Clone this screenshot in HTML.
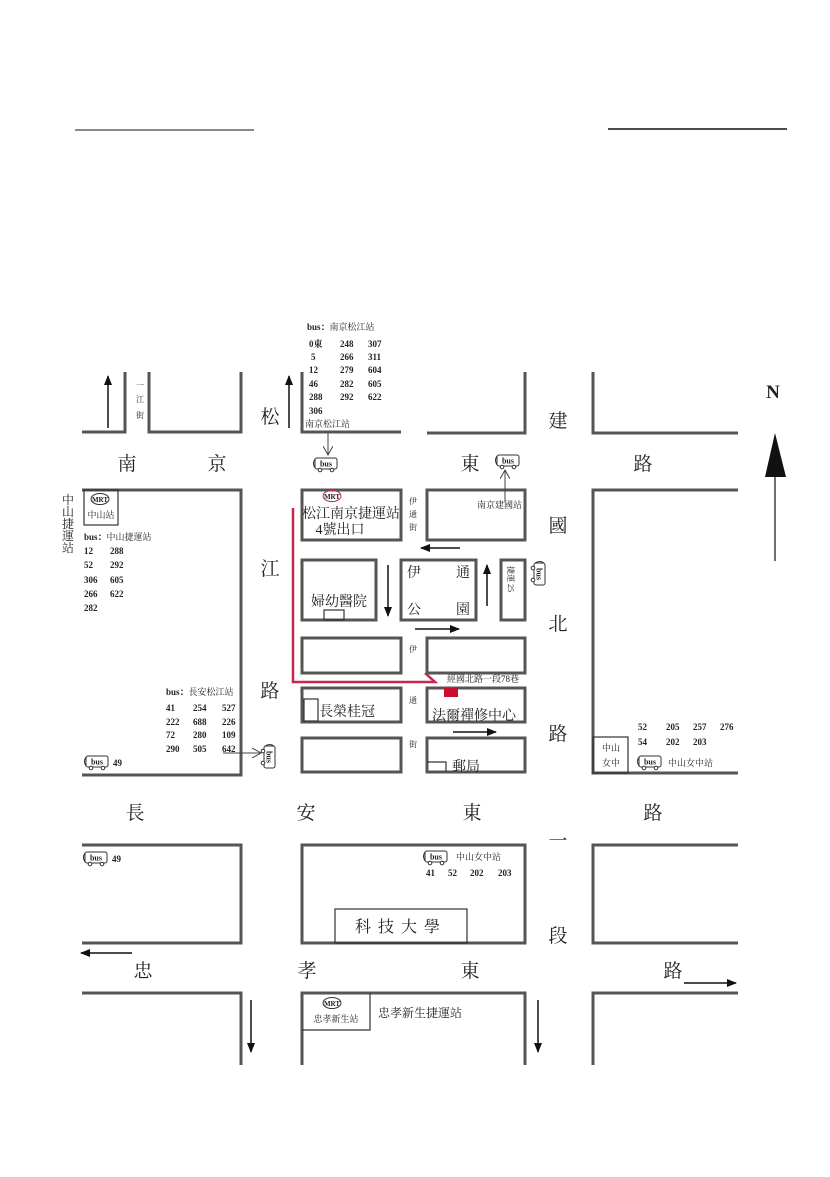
<!DOCTYPE html>
<html><head><meta charset="utf-8"><style>
html,body{margin:0;padding:0;background:#fff}
svg{display:block}
text{font-family:"Liberation Serif","Noto Serif CJK SC","Noto Sans CJK TC",serif;fill:#222}
.r{font-size:19px}
.s{font-size:9px;font-weight:bold}
.m{font-size:13px}
.b{fill:none;stroke:#555;stroke-width:3}
.t{fill:none;stroke:#333;stroke-width:1.2}
</style></head><body>
<svg width="830" height="1177" viewBox="0 0 830 1177" xmlns="http://www.w3.org/2000/svg">
<defs>
<marker id="ah" markerWidth="10" markerHeight="8" refX="9" refY="4" orient="auto" markerUnits="userSpaceOnUse"><path d="M0,0 L10,4 L0,8 Z" fill="#111"/></marker>
<marker id="oh" markerWidth="10" markerHeight="10" refX="9" refY="5" orient="auto" markerUnits="userSpaceOnUse"><path d="M0,0 L9,5 L0,10" fill="none" stroke="#444" stroke-width="1"/></marker>
<g id="bus"><rect x="3" y="0" width="22" height="11" rx="2" fill="#fff" stroke="#333" stroke-width="1"/><path d="M3,1 Q0,5 3,10" fill="none" stroke="#333"/><circle cx="8" cy="12" r="1.8" fill="#fff" stroke="#333"/><circle cx="20" cy="12" r="1.8" fill="#fff" stroke="#333"/><text x="14" y="8.5" font-size="8" text-anchor="middle" font-weight="bold">bus</text></g>
</defs>
<line x1="75" y1="130" x2="254" y2="130" stroke="#888" stroke-width="2"/>
<line x1="608" y1="129" x2="787" y2="129" stroke="#111" stroke-width="1.5"/>

<!-- top strip -->
<path class="b" d="M82,432 H125 V372"/>
<path class="b" d="M149,372 V432 H241 V372"/>
<path class="b" d="M302,372 V432 H401"/>
<path class="b" d="M427,433 H525 V372"/>
<path class="b" d="M593,372 V433 H738"/>
<!-- row 2 -->
<path class="b" d="M82,490 H241 V775 H82"/>
<rect class="b" x="302" y="490" width="99" height="50"/>
<rect class="b" x="427" y="490" width="98" height="50"/>
<rect class="b" x="302" y="560" width="74" height="60"/>
<rect class="b" x="401" y="560" width="75" height="60"/>
<rect class="b" x="501" y="560" width="24" height="60"/>
<rect class="b" x="302" y="638" width="99" height="35"/>
<rect class="b" x="427" y="638" width="98" height="35"/>
<rect class="b" x="302" y="688" width="99" height="34"/>
<rect class="b" x="427" y="688" width="98" height="34"/>
<rect class="b" x="302" y="738" width="99" height="34"/>
<rect class="b" x="427" y="738" width="98" height="34"/>
<path class="b" d="M738,490 H593 V773 H738"/>
<rect class="t" x="593" y="737" width="35" height="36" stroke-width="1.5"/>
<rect class="t" x="324" y="610" width="20" height="10"/>
<rect class="t" x="304" y="699" width="14" height="22"/>
<path class="t" d="M427,762 H446 V772"/>
<!-- row 3 -->
<path class="b" d="M82,845 H241 V943 H82"/>
<rect class="b" x="302" y="845" width="223" height="98"/>
<rect class="t" x="335" y="909" width="132" height="34"/>
<path class="b" d="M738,845 H593 V943 H738"/>
<!-- row 4 -->
<path class="b" d="M82,993 H241 V1065"/>
<path class="b" d="M302,1065 V993 H525 V1065"/>
<path class="t" d="M302,1030 H370 V993" stroke-width="1.5"/>
<path class="b" d="M738,993 H593 V1065"/>

<!-- red route -->
<path d="M293,508 V682 H435 L425,673" fill="none" stroke="#c8284e" stroke-width="2.5"/>
<rect x="444" y="688" width="14" height="9" fill="#c8102e"/>

<!-- road labels -->
<g class="r" text-anchor="middle">
<text x="127" y="470">南</text><text x="217" y="470">京</text><text x="470" y="470">東</text><text x="643" y="470">路</text>
<text x="270" y="423">松</text><text x="270" y="575">江</text><text x="270" y="697">路</text>
<text x="558" y="427">建</text><text x="558" y="532">國</text><text x="558" y="630">北</text><text x="558" y="740">路</text><text x="558" y="847">一</text><text x="558" y="942">段</text>
<text x="135" y="819">長</text><text x="306" y="819">安</text><text x="472" y="819">東</text><text x="653" y="819">路</text>
<text x="143" y="977">忠</text><text x="307" y="977">孝</text><text x="470" y="977">東</text><text x="673" y="977">路</text>
</g>
<g font-size="8" text-anchor="middle"><text x="140" y="388">一</text><text x="140" y="402">江</text><text x="140" y="418">街</text>
<text x="413" y="504">伊</text><text x="413" y="517">通</text><text x="413" y="530">街</text>
<text x="413" y="652">伊</text><text x="413" y="703">通</text><text x="413" y="747">街</text></g>

<!-- arrows -->
<g stroke="#111" stroke-width="1.5" fill="none">
<line x1="108" y1="428" x2="108" y2="376" marker-end="url(#ah)"/>
<line x1="289" y1="428" x2="289" y2="376" marker-end="url(#ah)"/>
<line x1="460" y1="548" x2="421" y2="548" marker-end="url(#ah)"/>
<line x1="388" y1="565" x2="388" y2="616" marker-end="url(#ah)"/>
<line x1="415" y1="629" x2="459" y2="629" marker-end="url(#ah)"/>
<line x1="487" y1="606" x2="487" y2="565" marker-end="url(#ah)"/>
<line x1="453" y1="732" x2="496" y2="732" marker-end="url(#ah)"/>
<line x1="132" y1="953" x2="81" y2="953" marker-end="url(#ah)"/>
<line x1="684" y1="983" x2="736" y2="983" marker-end="url(#ah)"/>
<line x1="251" y1="1000" x2="251" y2="1052" marker-end="url(#ah)"/>
<line x1="538" y1="1000" x2="538" y2="1052" marker-end="url(#ah)"/>
<line x1="775" y1="475" x2="775" y2="561" stroke-width="1.2"/>
</g>
<path d="M775,433 L765,477 H786 Z" fill="#111"/>
<text x="773" y="398" font-size="19" font-weight="bold" text-anchor="middle" fill="#111">N</text>
<g stroke="#444" stroke-width="1" fill="none">
<line x1="328" y1="433" x2="328" y2="455" marker-end="url(#oh)"/>
<line x1="505" y1="502" x2="505" y2="470" marker-end="url(#oh)"/>
<line x1="223" y1="753" x2="261" y2="753" marker-end="url(#oh)"/>
</g>

<!-- bus icons -->
<use href="#bus" x="312" y="458"/>
<use href="#bus" x="494" y="455"/>
<use href="#bus" x="83" y="756"/>
<use href="#bus" x="636" y="756"/>
<use href="#bus" x="82" y="852"/>
<use href="#bus" x="422" y="851"/>
<use href="#bus" transform="translate(275,743) rotate(90)"/>
<use href="#bus" transform="translate(545,560) rotate(90)"/>

<!-- bus lists -->
<g class="s">
<text x="307" y="330">bus：<tspan font-weight="normal">南京松江站</tspan></text>
<text x="309" y="347">0東</text><text x="340" y="347">248</text><text x="368" y="347">307</text>
<text x="311" y="360">5</text><text x="340" y="360">266</text><text x="368" y="360">311</text>
<text x="309" y="373">12</text><text x="340" y="373">279</text><text x="368" y="373">604</text>
<text x="309" y="387">46</text><text x="340" y="387">282</text><text x="368" y="387">605</text>
<text x="309" y="400">288</text><text x="340" y="400">292</text><text x="368" y="400">622</text>
<text x="309" y="414">306</text>
<text x="305" y="427" font-weight="normal">南京松江站</text>
<text x="84" y="540">bus：<tspan font-weight="normal">中山捷運站</tspan></text>
<text x="84" y="554">12</text><text x="110" y="554">288</text>
<text x="84" y="568">52</text><text x="110" y="568">292</text>
<text x="84" y="583">306</text><text x="110" y="583">605</text>
<text x="84" y="597">266</text><text x="110" y="597">622</text>
<text x="84" y="611">282</text>
<text x="166" y="695">bus：<tspan font-weight="normal">長安松江站</tspan></text>
<text x="166" y="711">41</text><text x="193" y="711">254</text><text x="222" y="711">527</text>
<text x="166" y="725">222</text><text x="193" y="725">688</text><text x="222" y="725">226</text>
<text x="166" y="738">72</text><text x="193" y="738">280</text><text x="222" y="738">109</text>
<text x="166" y="752">290</text><text x="193" y="752">505</text><text x="222" y="752">642</text>
<text x="113" y="766">49</text><text x="112" y="862">49</text>
<text x="638" y="730">52</text><text x="666" y="730">205</text><text x="693" y="730">257</text><text x="720" y="730">276</text>
<text x="638" y="745">54</text><text x="666" y="745">202</text><text x="693" y="745">203</text>
<text x="426" y="876">41</text><text x="448" y="876">52</text><text x="470" y="876">202</text><text x="498" y="876">203</text>
</g>
<g font-size="9">
<text x="668" y="766">中山女中站</text>
<text x="456" y="860">中山女中站</text>
<text x="477" y="508">南京建國站</text>
<text x="447" y="682">經國北路一段78巷</text>
<text x="611" y="751" text-anchor="middle">中山</text><text x="611" y="766" text-anchor="middle">女中</text>
</g>
<g font-size="12" text-anchor="middle"><text x="68" y="504">中</text><text x="68" y="516">山</text><text x="68" y="528">捷</text><text x="68" y="540">運</text><text x="68" y="552">站</text></g>

<!-- MRT marks -->
<ellipse cx="100" cy="499" rx="9" ry="5.5" fill="none" stroke="#333"/><text x="100" y="502" font-size="7" font-weight="bold" text-anchor="middle">MRT</text>
<rect class="t" x="84" y="490" width="34" height="35"/>
<text x="101" y="518" font-size="9" text-anchor="middle">中山站</text>
<ellipse cx="332" cy="496" rx="9" ry="5.5" fill="none" stroke="#c8284e"/><text x="332" y="499" font-size="7" font-weight="bold" text-anchor="middle" fill="#c8284e">MRT</text>
<text x="351" y="518" font-size="14" text-anchor="middle" fill="#c8284e">松江南京捷運站</text>
<text x="340" y="534" font-size="14" text-anchor="middle" fill="#c8284e">4號出口</text>
<ellipse cx="332" cy="1003" rx="9" ry="5.5" fill="none" stroke="#333"/><text x="332" y="1006" font-size="7" font-weight="bold" text-anchor="middle">MRT</text>
<text x="336" y="1022" font-size="9" text-anchor="middle">忠孝新生站</text>
<text x="378" y="1017" font-size="12">忠孝新生捷運站</text>

<!-- block labels -->
<g font-size="14">
<text x="339" y="606" text-anchor="middle">婦幼醫院</text>
<text x="407" y="577">伊</text><text x="456" y="577">通</text>
<text x="407" y="614">公</text><text x="456" y="614">園</text>
<text x="319" y="716">長榮桂冠</text>
<text x="452" y="771">郵局</text>
<text x="474" y="720" text-anchor="middle" fill="#c8284e">法爾禪修中心</text>
<text x="401" y="932" text-anchor="middle" font-size="16" letter-spacing="7">科技大學</text>
</g>
<text transform="translate(508,566) rotate(90)" font-size="8">捷運 25</text>
</svg>
</body></html>
